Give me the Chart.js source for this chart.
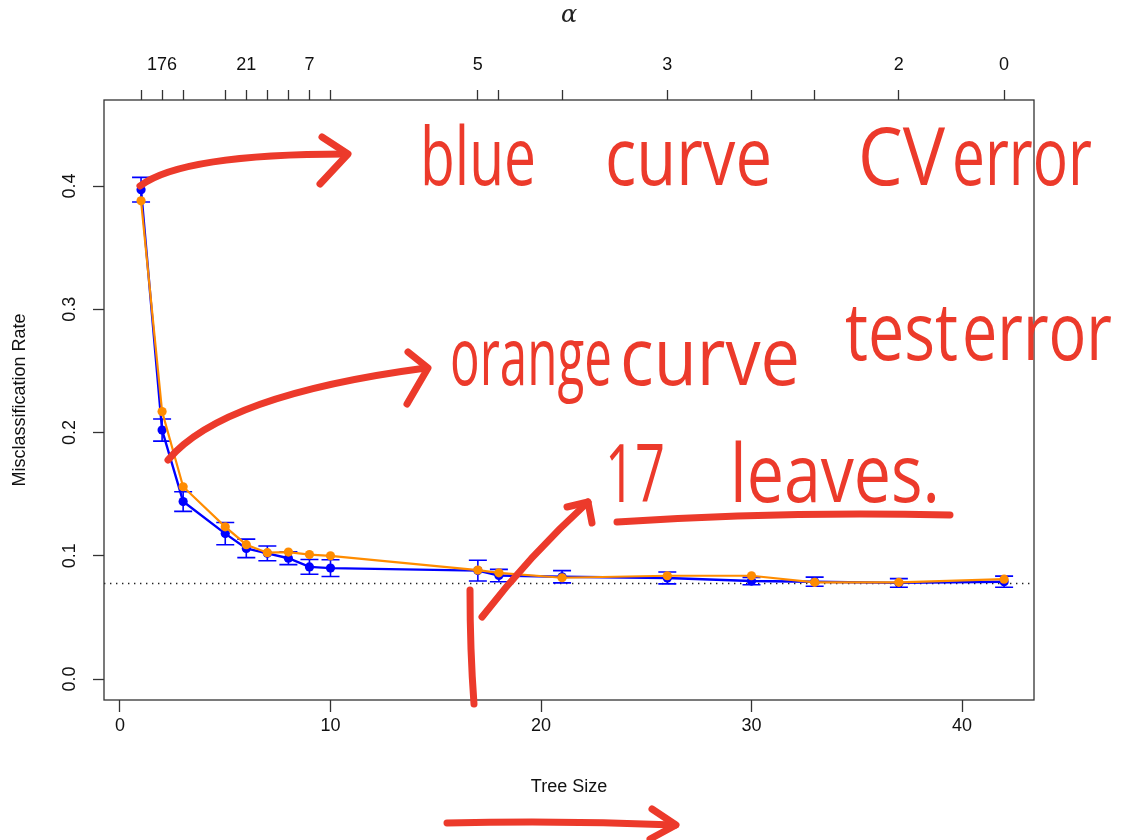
<!DOCTYPE html>
<html>
<head>
<meta charset="utf-8">
<script src="https://cdn.jsdelivr.net/npm/chart.js@4.4.1/dist/chart.umd.min.js"></script>
<style>
  html, body { margin: 0; padding: 0; background: #fff; }
  #wrap { width: 1136px; height: 840px; }
</style>
</head>
<body>
<div id="wrap"><canvas id="chart-pruning" width="1136" height="840"></canvas></div>
<script>
// tree sizes along the pruning path, CV error (with 1 SE bars) and test error
const treeSize = [1, 2, 3, 5, 6, 7, 8, 9, 10, 17, 18, 21, 26, 30, 33, 37, 42];
const cvError = [0.397, 0.202, 0.144, 0.118, 0.106, 0.102, 0.098, 0.091, 0.090, 0.088, 0.084, 0.083, 0.082, 0.0795, 0.079, 0.078, 0.079];
const cvSe = [0.010, 0.009, 0.008, 0.009, 0.0075, 0.006, 0.0052, 0.006, 0.0068, 0.0084, 0.005, 0.005, 0.0048, 0.003, 0.0037, 0.0035, 0.0045];
const testError = [0.388, 0.217, 0.156, 0.1235, 0.109, 0.1025, 0.103, 0.101, 0.100, 0.0884, 0.0862, 0.0822, 0.0838, 0.0838, 0.0785, 0.0785, 0.081];
const alphaLabels = ["", "176", "", "", "21", "", "", "7", "", "5", "", "", "3", "", "", "2", "0"];
const xTicks = [0, 10, 20, 30, 40];
const yTicks = [0, 0.1, 0.2, 0.3, 0.4];
const baseRate = 0.078;

const blue = "#0000ff";
const orange = "#ff8c00";
const ink = "#333";
const marker = "#ec3a2b";
const axisFont = { family: "'Liberation Sans', Arial, sans-serif", size: 18 };

const ctxEl = document.getElementById("chart-pruning");

// 1-SE bars on the CV curve, drawn right after the blue dataset
const errorBars = {
    id: "errorBars",
    afterDatasetDraw(chart, args) {
        if (args.index !== 1) return;
        const { ctx, scales: { x, y } } = chart;
        ctx.save();
        ctx.strokeStyle = blue;
        ctx.lineWidth = 1.6;
        treeSize.forEach((t, i) => {
            const px = x.getPixelForValue(t);
            const lo = y.getPixelForValue(cvError[i] - cvSe[i]);
            const hi = y.getPixelForValue(cvError[i] + cvSe[i]);
            ctx.beginPath();
            ctx.moveTo(px, lo); ctx.lineTo(px, hi);
            ctx.moveTo(px - 9, lo); ctx.lineTo(px + 9, lo);
            ctx.moveTo(px - 9, hi); ctx.lineTo(px + 9, hi);
            ctx.stroke();
        });
        ctx.restore();
    },
};

// dotted reference level + the frame round the plot
const frame = {
    id: "frame",
    beforeDatasetsDraw(chart) {
        const { ctx, chartArea: a, scales: { y } } = chart;
        const py = Math.round(y.getPixelForValue(baseRate)) + 0.5;
        ctx.save();
        ctx.strokeStyle = "#222";
        ctx.lineWidth = 1.4;
        ctx.setLineDash([1.4, 4.6]);
        ctx.beginPath();
        ctx.moveTo(a.left, py); ctx.lineTo(a.right, py);
        ctx.stroke();
        ctx.restore();
    },
    afterDraw(chart) {
        const { ctx, chartArea: a } = chart;
        ctx.save();
        ctx.strokeStyle = ink;
        ctx.lineWidth = 1.3;
        ctx.strokeRect(a.left, a.top, a.right - a.left, a.bottom - a.top);
        ctx.restore();
    },
};

// red marker notes written over the plot
const notes = {
    id: "notes",
    afterDraw(chart) {
        const ctx = chart.ctx;
        ctx.save();
        ctx.strokeStyle = marker;
        ctx.fillStyle = marker;
        ctx.lineCap = "round";
        ctx.lineJoin = "round";
        ctx.lineWidth = 7;

        const curve = (x0, y0, cx, cy, x1, y1) => {
            ctx.beginPath();
            ctx.moveTo(x0, y0);
            ctx.quadraticCurveTo(cx, cy, x1, y1);
            ctx.stroke();
        };
        const head = (ax, ay, tx, ty, bx, by) => {
            ctx.beginPath();
            ctx.moveTo(ax, ay); ctx.lineTo(tx, ty); ctx.lineTo(bx, by);
            ctx.stroke();
        };

        curve(140, 186, 182, 154, 346, 154);
        head(322, 137, 348, 154, 320, 184);

        curve(168, 460, 222, 395, 426, 368);
        head(408, 352, 428, 368, 407, 404);

        curve(470, 590, 470, 650, 474, 704);

        curve(482, 617, 530, 555, 588, 502);
        head(567, 507, 588, 502, 592, 523);

        curve(617, 522, 780, 511, 950, 515);

        curve(447, 823, 560, 820, 675, 825);
        head(652, 809, 676, 825, 650, 839);

        ctx.font = "80px 'Open Sans', 'DejaVu Sans', sans-serif";
        ctx.textBaseline = "alphabetic";
        const word = (t, x0, x1, base) => ctx.fillText(t, x0, base, x1 - x0);
        word("blue", 420, 536, 185);
        word("curve", 605, 772, 185);
        word("CV", 858, 945, 185);
        word("error", 952, 1092, 185);
        word("orange", 450, 612, 385);
        word("curve", 620, 800, 385);
        word("test", 845, 958, 360);
        word("error", 962, 1112, 360);
        word("17", 605, 665, 502);
        word("leaves.", 730, 940, 502);
        ctx.restore();
    },
};

const points = ys => treeSize.map((t, i) => ({ x: t, y: ys[i] }));

new Chart(ctxEl, {
    type: "line",
    data: {
        datasets: [
            {
                label: "Test error",
                data: points(testError),
                borderColor: orange,
                backgroundColor: orange,
                borderWidth: 2.2,
                pointRadius: 4.6,
                pointBorderWidth: 0,
                order: 0,
            },
            {
                label: "CV error",
                data: points(cvError),
                borderColor: blue,
                backgroundColor: blue,
                borderWidth: 2.4,
                pointRadius: 4.6,
                pointBorderWidth: 0,
                order: 1,
            },
        ],
    },
    options: {
        responsive: false,
        animation: false,
        layout: { padding: { left: 0, top: 0, right: 102, bottom: 0 } },
        plugins: {
            legend: { display: false },
            tooltip: { enabled: false },
        },
        scales: {
            x: {
                type: "linear",
                position: "bottom",
                min: -0.76,
                max: 43.42,
                afterBuildTicks: s => { s.ticks = xTicks.map(v => ({ value: v })); },
                afterFit: s => { s.height = 140; },
                ticks: { font: axisFont, color: "#111", padding: 3, maxRotation: 0 },
                grid: { drawOnChartArea: false, drawTicks: true, tickLength: 12, tickColor: ink, tickWidth: 1.3 },
                border: { display: false },
                title: { display: true, text: "Tree Size", font: axisFont, color: "#111", padding: { bottom: 42 } },
            },
            x2: {
                type: "linear",
                position: "top",
                min: -0.76,
                max: 43.42,
                afterBuildTicks: s => { s.ticks = treeSize.map(v => ({ value: v })); },
                afterFit: s => { s.height = 100; },
                ticks: {
                    font: axisFont, color: "#111", padding: 14, autoSkip: false, maxRotation: 0,
                    callback: (v, i) => alphaLabels[i],
                },
                grid: { drawOnChartArea: false, drawTicks: true, tickLength: 10, tickColor: ink, tickWidth: 1.3 },
                border: { display: false },
                title: {
                    display: true, text: "α", color: "#222",
                    font: { family: "'DejaVu Serif', 'Liberation Serif', serif", style: "italic", size: 24 },
                    padding: { top: 1 },
                },
            },
            y: {
                type: "linear",
                min: -0.017,
                max: 0.4698,
                afterBuildTicks: s => { s.ticks = yTicks.map(v => ({ value: v })); },
                afterFit: s => { s.width = 104; },
                ticks: {
                    font: axisFont, color: "#111", padding: 10, minRotation: 90, maxRotation: 90,
                    crossAlign: "center",
                    callback: v => v.toFixed(1),
                },
                grid: { drawOnChartArea: false, drawTicks: true, tickLength: 11, tickColor: ink, tickWidth: 1.3 },
                border: { display: false },
                title: { display: true, text: "Misclassification Rate", font: axisFont, color: "#111", padding: { top: 9 } },
            },
        },
    },
    plugins: [frame, errorBars, notes],
});
</script>
</body>
</html>
